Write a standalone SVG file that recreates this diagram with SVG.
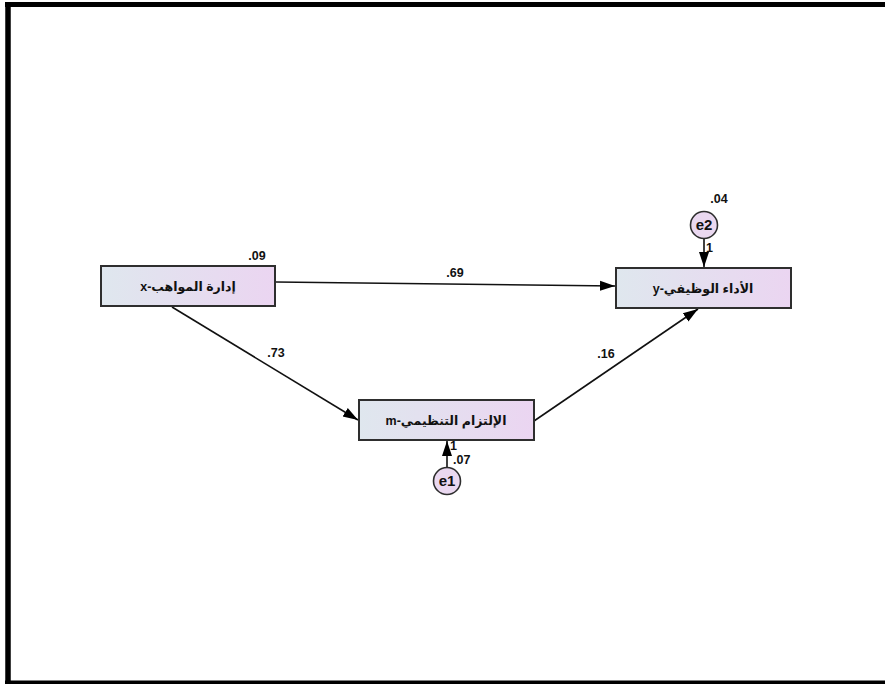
<svg xmlns="http://www.w3.org/2000/svg" width="885" height="684" viewBox="0 0 885 684">
<defs>
<linearGradient id="g" x1="0" y1="0" x2="1" y2="0">
<stop offset="0" stop-color="#dfe7ee"/>
<stop offset="1" stop-color="#ebd5f1"/>
</linearGradient>
<marker id="ah" markerUnits="userSpaceOnUse" markerWidth="16" markerHeight="12" viewBox="0 0 16 12" refX="15" refY="6" orient="auto">
<path d="M0,1 L15,6 L0,11 Z" fill="#000"/>
</marker>
<style>
.box{fill:url(#g);stroke:#2e2e2e;stroke-width:2}
.err{fill:#ead8f0;stroke:#2e2e2e;stroke-width:1.6}
.lbl{font-family:"Liberation Sans",Arial,sans-serif;font-weight:bold;font-size:12.5px;fill:#111}
.ar{font-family:"Liberation Sans","DejaVu Sans",Arial,sans-serif;font-weight:bold;font-size:12.5px;fill:#111}
.et{font-family:"Liberation Sans",Arial,sans-serif;font-weight:bold;font-size:15px;fill:#111}
.c{stroke:#111;stroke-width:1.6;fill:none;marker-end:url(#ah)}
</style>
</defs>
<rect width="885" height="684" fill="#fff"/>
<g id="frame" stroke="#000" fill="none">
<line x1="5" y1="4.5" x2="885" y2="4.5" stroke-width="5"/>
<line x1="8" y1="2" x2="8" y2="684" stroke-width="5.5"/>
<line x1="5" y1="682.5" x2="885" y2="682.5" stroke-width="4"/>
</g>
<g id="connectors">
<line class="c" x1="276" y1="282" x2="615" y2="286"/>
<line class="c" x1="172" y1="307" x2="358" y2="420"/>
<line class="c" x1="534" y1="421" x2="698" y2="309"/>
<line class="c" x1="704" y1="238" x2="704" y2="267"/>
<line class="c" x1="447" y1="467" x2="447" y2="441"/>
<text class="lbl" x="455" y="277" text-anchor="middle">.69</text>
<text class="lbl" x="276" y="357" text-anchor="middle">.73</text>
<text class="lbl" x="606" y="358" text-anchor="middle">.16</text>
<text class="lbl" x="706" y="252">1</text>
<text class="lbl" x="450" y="450">1</text>
<text class="lbl" x="453" y="464">.07</text>
</g>
<g id="x">
<rect class="box" x="101" y="266" width="174" height="40"/>
<text class="ar" x="188" y="291" text-anchor="middle" direction="rtl">إدارة المواهب-x</text>
<text class="lbl" x="257" y="260" text-anchor="middle">.09</text>
</g>
<g id="y">
<rect class="box" x="616" y="268" width="175" height="40"/>
<text class="ar" x="703" y="293" text-anchor="middle" direction="rtl">الأداء الوظيفي-y</text>
</g>
<g id="m">
<rect class="box" x="359" y="400" width="175" height="40"/>
<text class="ar" x="446" y="425" text-anchor="middle" direction="rtl">الإلتزام التنظيمي-m</text>
</g>
<g id="e2">
<circle class="err" cx="704" cy="225" r="13.5"/>
<text class="et" x="704" y="230" text-anchor="middle">e2</text>
<text class="lbl" x="719" y="203" text-anchor="middle">.04</text>
</g>
<g id="e1">
<circle class="err" cx="447" cy="481" r="13.5"/>
<text class="et" x="447" y="486" text-anchor="middle">e1</text>
</g>
</svg>
